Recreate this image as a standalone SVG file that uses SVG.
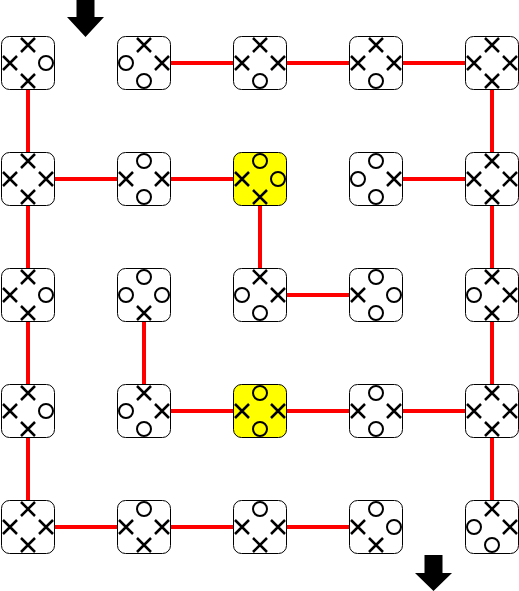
<svg xmlns="http://www.w3.org/2000/svg" xmlns:xlink="http://www.w3.org/1999/xlink" width="519" height="591" viewBox="0 0 519 591">
<style>
.tile{fill:#fff;stroke:#000;stroke-width:1}
.hl{fill:#ffff00}
.x{fill:none;stroke:#000;stroke-width:2.5}
.o{fill:none;stroke:#000;stroke-width:2}
.link{stroke:#ff0000;stroke-width:4;fill:none}
.arrow{fill:#000}
</style>
<defs>
<path id="X" class="x" d="M-7,-7L7,7M7,-7L-7,7"/>
<circle id="O" class="o" r="7"/>
</defs>
<rect width="519" height="591" fill="#fff"/>
<g id="connectors">
<path class="link" d="M170.5,63H233.5M286.5,63H349.5M402.5,63H465.5"/>
<path class="link" d="M54.5,179H117.5M170.5,179H233.5M402.5,179H465.5"/>
<path class="link" d="M286.5,295H349.5"/>
<path class="link" d="M170.5,411H233.5M286.5,411H349.5M402.5,411H465.5"/>
<path class="link" d="M54.5,527H117.5M170.5,527H233.5M286.5,527H349.5"/>
<path class="link" d="M28,89.5V152.5M28,205.5V268.5M28,321.5V384.5M28,437.5V500.5"/>
<path class="link" d="M144,321.5V384.5"/>
<path class="link" d="M260,205.5V268.5"/>
<path class="link" d="M492,89.5V152.5M492,205.5V268.5M492,321.5V384.5M492,437.5V500.5"/>
</g>
<g id="arrow-in"><polygon class="arrow" points="76.5,0 94.5,0 94.5,17 104,17 85.5,37 67,17 76.5,17"/></g>
<g id="arrow-out"><polygon class="arrow" points="424.5,555 442.5,555 442.5,573 452,573 433.5,591 415,573 424.5,573"/></g>

<g id="t00" transform="translate(28,63)"><rect class="tile" x="-26.5" y="-26.5" width="53" height="53" rx="8"/><use href="#X" y="-18"/><use href="#X" x="-18"/><use href="#O" x="18"/><use href="#X" y="18"/></g>
<g id="t01" transform="translate(144,63)"><rect class="tile" x="-26.5" y="-26.5" width="53" height="53" rx="8"/><use href="#X" y="-18"/><use href="#O" x="-18"/><use href="#X" x="18"/><use href="#O" y="18"/></g>
<g id="t02" transform="translate(260,63)"><rect class="tile" x="-26.5" y="-26.5" width="53" height="53" rx="8"/><use href="#X" y="-18"/><use href="#X" x="-18"/><use href="#X" x="18"/><use href="#O" y="18"/></g>
<g id="t03" transform="translate(376,63)"><rect class="tile" x="-26.5" y="-26.5" width="53" height="53" rx="8"/><use href="#X" y="-18"/><use href="#X" x="-18"/><use href="#X" x="18"/><use href="#O" y="18"/></g>
<g id="t04" transform="translate(492,63)"><rect class="tile" x="-26.5" y="-26.5" width="53" height="53" rx="8"/><use href="#X" y="-18"/><use href="#X" x="-18"/><use href="#X" x="18"/><use href="#X" y="18"/></g>

<g id="t10" transform="translate(28,179)"><rect class="tile" x="-26.5" y="-26.5" width="53" height="53" rx="8"/><use href="#X" y="-18"/><use href="#X" x="-18"/><use href="#X" x="18"/><use href="#X" y="18"/></g>
<g id="t11" transform="translate(144,179)"><rect class="tile" x="-26.5" y="-26.5" width="53" height="53" rx="8"/><use href="#O" y="-18"/><use href="#X" x="-18"/><use href="#X" x="18"/><use href="#O" y="18"/></g>
<g id="t12" transform="translate(260,179)"><rect class="tile hl" x="-26.5" y="-26.5" width="53" height="53" rx="8"/><use href="#O" y="-18"/><use href="#X" x="-18"/><use href="#O" x="18"/><use href="#X" y="18"/></g>
<g id="t13" transform="translate(376,179)"><rect class="tile" x="-26.5" y="-26.5" width="53" height="53" rx="8"/><use href="#O" y="-18"/><use href="#O" x="-18"/><use href="#X" x="18"/><use href="#O" y="18"/></g>
<g id="t14" transform="translate(492,179)"><rect class="tile" x="-26.5" y="-26.5" width="53" height="53" rx="8"/><use href="#X" y="-18"/><use href="#X" x="-18"/><use href="#X" x="18"/><use href="#X" y="18"/></g>

<g id="t20" transform="translate(28,295)"><rect class="tile" x="-26.5" y="-26.5" width="53" height="53" rx="8"/><use href="#X" y="-18"/><use href="#X" x="-18"/><use href="#O" x="18"/><use href="#X" y="18"/></g>
<g id="t21" transform="translate(144,295)"><rect class="tile" x="-26.5" y="-26.5" width="53" height="53" rx="8"/><use href="#O" y="-18"/><use href="#O" x="-18"/><use href="#O" x="18"/><use href="#X" y="18"/></g>
<g id="t22" transform="translate(260,295)"><rect class="tile" x="-26.5" y="-26.5" width="53" height="53" rx="8"/><use href="#X" y="-18"/><use href="#O" x="-18"/><use href="#X" x="18"/><use href="#O" y="18"/></g>
<g id="t23" transform="translate(376,295)"><rect class="tile" x="-26.5" y="-26.5" width="53" height="53" rx="8"/><use href="#O" y="-18"/><use href="#X" x="-18"/><use href="#O" x="18"/><use href="#O" y="18"/></g>
<g id="t24" transform="translate(492,295)"><rect class="tile" x="-26.5" y="-26.5" width="53" height="53" rx="8"/><use href="#X" y="-18"/><use href="#O" x="-18"/><use href="#X" x="18"/><use href="#X" y="18"/></g>

<g id="t30" transform="translate(28,411)"><rect class="tile" x="-26.5" y="-26.5" width="53" height="53" rx="8"/><use href="#X" y="-18"/><use href="#X" x="-18"/><use href="#O" x="18"/><use href="#X" y="18"/></g>
<g id="t31" transform="translate(144,411)"><rect class="tile" x="-26.5" y="-26.5" width="53" height="53" rx="8"/><use href="#X" y="-18"/><use href="#O" x="-18"/><use href="#X" x="18"/><use href="#O" y="18"/></g>
<g id="t32" transform="translate(260,411)"><rect class="tile hl" x="-26.5" y="-26.5" width="53" height="53" rx="8"/><use href="#O" y="-18"/><use href="#X" x="-18"/><use href="#X" x="18"/><use href="#O" y="18"/></g>
<g id="t33" transform="translate(376,411)"><rect class="tile" x="-26.5" y="-26.5" width="53" height="53" rx="8"/><use href="#O" y="-18"/><use href="#X" x="-18"/><use href="#X" x="18"/><use href="#O" y="18"/></g>
<g id="t34" transform="translate(492,411)"><rect class="tile" x="-26.5" y="-26.5" width="53" height="53" rx="8"/><use href="#X" y="-18"/><use href="#X" x="-18"/><use href="#X" x="18"/><use href="#X" y="18"/></g>

<g id="t40" transform="translate(28,527)"><rect class="tile" x="-26.5" y="-26.5" width="53" height="53" rx="8"/><use href="#X" y="-18"/><use href="#X" x="-18"/><use href="#X" x="18"/><use href="#X" y="18"/></g>
<g id="t41" transform="translate(144,527)"><rect class="tile" x="-26.5" y="-26.5" width="53" height="53" rx="8"/><use href="#O" y="-18"/><use href="#X" x="-18"/><use href="#X" x="18"/><use href="#X" y="18"/></g>
<g id="t42" transform="translate(260,527)"><rect class="tile" x="-26.5" y="-26.5" width="53" height="53" rx="8"/><use href="#O" y="-18"/><use href="#X" x="-18"/><use href="#X" x="18"/><use href="#X" y="18"/></g>
<g id="t43" transform="translate(376,527)"><rect class="tile" x="-26.5" y="-26.5" width="53" height="53" rx="8"/><use href="#O" y="-18"/><use href="#X" x="-18"/><use href="#O" x="18"/><use href="#X" y="18"/></g>
<g id="t44" transform="translate(492,527)"><rect class="tile" x="-26.5" y="-26.5" width="53" height="53" rx="8"/><use href="#X" y="-18"/><use href="#O" x="-18"/><use href="#X" x="18"/><use href="#O" y="18"/></g>
</svg>
